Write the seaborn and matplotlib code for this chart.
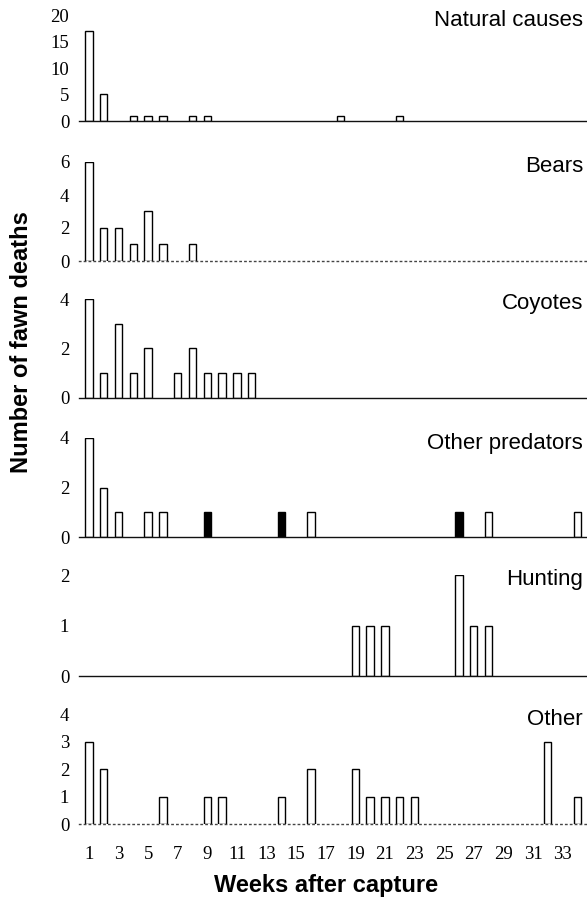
import numpy as np
import pandas as pd
import matplotlib
matplotlib.use("Agg")
import matplotlib.pyplot as plt
import seaborn as sns

# ------------------------------------------ DATA ------------------------------------------------#
natural_weeks = [1, 2, 4, 5, 6, 8, 9, 18, 22]
natural_counts = [17, 5, 1, 1, 1, 1, 1, 1, 1]

bears_weeks = [1, 2, 3, 4, 5, 6, 8]
bears_counts = [6, 2, 2, 1, 3, 1, 1]

coyotes_weeks = [1, 2, 3, 4, 5, 7, 8, 9, 10, 11, 12]
coyotes_counts = [4, 1, 3, 1, 2, 1, 2, 1, 1, 1, 1]

other_pred_weeks = [1, 2, 3, 5, 6, 9, 14, 16, 26, 28, 34]
other_pred_counts = [4, 2, 1, 1, 1, 1, 1, 1, 1, 1, 1]
other_pred_solid = [False, False, False, False, False, True, True, False, True, False, False]

hunting_weeks = [19, 20, 21, 26, 27, 28]
hunting_counts = [1, 1, 1, 2, 1, 1]

other_weeks = [1, 2, 6, 9, 10, 14, 16, 19, 20, 21, 22, 23, 32, 34]
other_counts = [3, 2, 1, 1, 1, 1, 2, 2, 1, 1, 1, 1, 3, 1]

panel_titles = ["Natural causes", "Bears", "Coyotes", "Other predators", "Hunting", "Other"]
panel_yticks = [[0, 5, 10, 15, 20], [0, 2, 4, 6], [0, 2, 4], [0, 2, 4], [0, 1, 2], [0, 1, 2, 3, 4]]
week_labels = list(range(1, 34, 2))

# ------------------------------------------ LAYOUT ------------------------------------------------#
W, H = 587, 905
AX_LEFT = 79
# (top px, bottom px) of each panel's value range
panel_px = [(15, 121), (162, 261), (299, 398), (438, 537), (575, 676), (714, 824)]
dotted_axis = [False, True, False, False, False, True]

sns.set_style("white")
plt.rcParams["font.family"] = ["Liberation Serif", "DejaVu Serif"]
plt.rcParams["text.color"] = "black"
plt.rcParams["xtick.color"] = "black"
plt.rcParams["ytick.color"] = "black"

fig = plt.figure(figsize=(W / 100, H / 100), dpi=100)

panels = [
    (natural_weeks, natural_counts, None),
    (bears_weeks, bears_counts, None),
    (coyotes_weeks, coyotes_counts, None),
    (other_pred_weeks, other_pred_counts, other_pred_solid),
    (hunting_weeks, hunting_counts, None),
    (other_weeks, other_counts, None),
]

for i, (weeks, counts, solid) in enumerate(panels):
    top, bot = panel_px[i]
    ax = fig.add_axes([AX_LEFT / W, 1 - bot / H, (W - AX_LEFT) / W, (bot - top) / H])
    if solid is None:
        solid = [False] * len(weeks)
    df = pd.DataFrame({"week": weeks, "count": counts,
                       "kind": ["solid" if s else "open" for s in solid]})
    sns.barplot(data=df, x="week", y="count", hue="kind",
                palette={"open": "white", "solid": "black"},
                dodge=False, native_scale=True, width=0.5, errorbar=None,
                edgecolor="black", linewidth=1.0, saturation=1, legend=False, ax=ax)

    yt = panel_yticks[i]
    ax.set_ylim(0, yt[-1])
    ax.set_xlim(0.33, 34.65)
    ax.set_yticks(yt)
    ax.set_yticklabels([str(v) for v in yt], fontsize=13.5)
    ax.set_xlabel("")
    ax.set_ylabel("")
    for side in ["top", "right", "left"]:
        ax.spines[side].set_visible(False)
    ax.spines["bottom"].set_color("#111111")
    ax.spines["bottom"].set_linewidth(1.0)
    if dotted_axis[i]:
        ax.spines["bottom"].set_linestyle((0, (1, 2.5)))
        ax.spines["bottom"].set_color("#444444")
    ax.tick_params(axis="y", direction="in", length=3, width=0.6, color="#777777", pad=7)

    ax.set_xticks(np.arange(1.5, 35, 3), minor=True)
    ax.tick_params(axis="x", which="minor", direction="out", length=3, width=0.7, color="#555555")
    if i == len(panels) - 1:
        ax.set_xticks(week_labels)
        ax.set_xticklabels([str(w) for w in week_labels], fontsize=13.5)
        ax.tick_params(axis="x", which="major", length=0, pad=16)
    else:
        ax.set_xticks([])
    ax.patch.set_alpha(0)

    ax.text(0.992, 1 - 5 / (bot - top), panel_titles[i], transform=ax.transAxes,
            ha="right", va="center", fontsize=16, family="Liberation Sans")

fig.text(22 / W, 1 - 342 / H, "Number of fawn deaths", rotation=90, ha="center", va="center",
         fontsize=17, fontweight="bold", family="Liberation Sans")
fig.text(326 / W, 1 - 885 / H, "Weeks after capture", ha="center", va="center",
         fontsize=17, fontweight="bold", family="Liberation Sans")

fig.savefig("out.png", dpi=100)
